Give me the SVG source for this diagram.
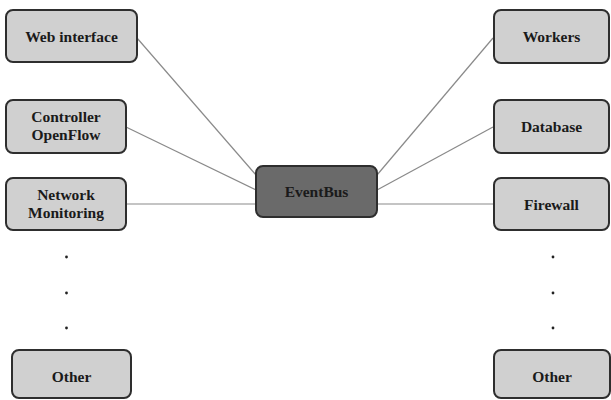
<svg xmlns="http://www.w3.org/2000/svg" width="611" height="400" viewBox="0 0 611 400">
  <style>
    .box { fill: #d0d0d0; stroke: #2e2e2e; stroke-width: 2; }
    .hub { fill: #6a6a6a; stroke: #2e2e2e; stroke-width: 2; }
    .lbl { font-family: "Liberation Serif", "Times New Roman", serif; font-weight: bold; font-size: 15.5px; fill: #1a1a1a; text-anchor: middle; }
    .link { stroke: #8a8a8a; stroke-width: 1.2; fill: none; }
    .dot { fill: #222; }
  </style>
  <rect width="611" height="400" fill="#ffffff"/>

  <g id="connectors">
    <line class="link" x1="137" y1="38" x2="256" y2="175"/>
    <line class="link" x1="126" y1="127" x2="256" y2="190"/>
    <line class="link" x1="126" y1="204" x2="256" y2="204"/>
    <line class="link" x1="493" y1="38" x2="377" y2="175"/>
    <line class="link" x1="493" y1="127" x2="377" y2="190"/>
    <line class="link" x1="493" y1="204" x2="377" y2="204"/>
  </g>

  <g id="web-interface">
    <rect class="box" x="6" y="10" width="131" height="52" rx="7"/>
    <text class="lbl" x="71.5" y="41.5">Web interface</text>
  </g>
  <g id="controller-openflow">
    <rect class="box" x="6" y="100" width="120" height="53" rx="7"/>
    <text class="lbl" x="66" y="122">Controller</text>
    <text class="lbl" x="66" y="140">OpenFlow</text>
  </g>
  <g id="network-monitoring">
    <rect class="box" x="6" y="178" width="120" height="52" rx="7"/>
    <text class="lbl" x="66" y="200">Network</text>
    <text class="lbl" x="66" y="218">Monitoring</text>
  </g>
  <g id="left-ellipsis">
    <circle class="dot" cx="66.5" cy="257" r="1.4"/>
    <circle class="dot" cx="66.5" cy="293" r="1.4"/>
    <circle class="dot" cx="66.5" cy="328" r="1.4"/>
  </g>
  <g id="other-left">
    <rect class="box" x="12" y="350" width="119" height="48" rx="7"/>
    <text class="lbl" x="71.5" y="382">Other</text>
  </g>

  <g id="eventbus">
    <rect class="hub" x="256" y="166" width="121" height="51" rx="7"/>
    <text class="lbl" x="316.5" y="197">EventBus</text>
  </g>

  <g id="workers">
    <rect class="box" x="494" y="10" width="115" height="53" rx="7"/>
    <text class="lbl" x="551.5" y="42">Workers</text>
  </g>
  <g id="database">
    <rect class="box" x="494" y="100" width="115" height="53" rx="7"/>
    <text class="lbl" x="551.5" y="132">Database</text>
  </g>
  <g id="firewall">
    <rect class="box" x="494" y="178" width="115" height="52" rx="7"/>
    <text class="lbl" x="551.5" y="210">Firewall</text>
  </g>
  <g id="right-ellipsis">
    <circle class="dot" cx="553" cy="257" r="1.4"/>
    <circle class="dot" cx="553" cy="293" r="1.4"/>
    <circle class="dot" cx="553" cy="328" r="1.4"/>
  </g>
  <g id="other-right">
    <rect class="box" x="494" y="350" width="116" height="48" rx="7"/>
    <text class="lbl" x="552" y="382">Other</text>
  </g>
</svg>
